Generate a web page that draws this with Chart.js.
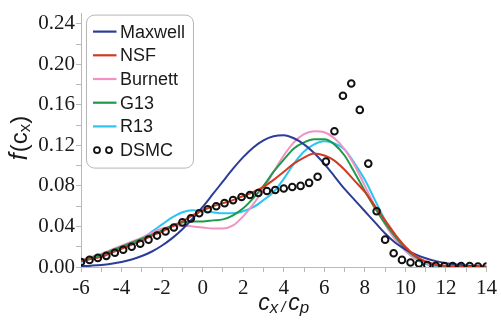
<!DOCTYPE html>
<html><head><meta charset="utf-8">
<script src="https://cdn.jsdelivr.net/npm/chart.js@4"></script>
<style>body{margin:0;background:#fff}canvas{display:block}</style>
</head><body>
<canvas id="c" width="501" height="325"></canvas>
<script>
// ---- data ----
const seriesNames = ['Maxwell','NSF','Burnett','G13','R13','DSMC'];
const xGrid = [-6,-5.5,-5,-4.5,-4,-3.5,-3,-2.5,-2,-1.5,-1,-0.5,0,0.5,1,1.5,2,2.5,3,3.5,4,4.5,5,5.5,6,6.5,7,7.5,8,8.5,9,9.5,10,10.5,11,11.5,12,12.5,13,13.5,14];
const maxwell = [0.0008,0.0013,0.0020,0.0032,0.0049,0.0074,0.0108,0.0153,0.0212,0.0285,0.0373,0.0476,0.0592,0.0718,0.0845,0.0970,0.1084,0.1180,0.1250,0.1290,0.1300,0.1270,0.1210,0.1125,0.1017,0.0895,0.0770,0.0660,0.0550,0.0440,0.0330,0.0240,0.0175,0.0124,0.0086,0.0058,0.0038,0.0025,0.0015,0.0009,0.0005];
const nsf = [0.006,0.008,0.010,0.014,0.018,0.022,0.026,0.031,0.035,0.040,0.045,0.051,0.056,0.060,0.063,0.066,0.070,0.074,0.079,0.086,0.094,0.102,0.108,0.112,0.110,0.105,0.096,0.085,0.074,0.060,0.046,0.032,0.020,0.011,0.0055,0.0025,0.0012,0.0005,0.0002,0.0001,0.0];
const burnett = [0.007,0.010,0.013,0.017,0.021,0.025,0.029,0.034,0.038,0.040,0.041,0.040,0.039,0.038,0.038,0.041,0.050,0.062,0.077,0.094,0.110,0.123,0.131,0.134,0.133,0.127,0.116,0.100,0.080,0.060,0.042,0.027,0.016,0.008,0.004,0.0015,0.0006,0.0003,0.0001,0.0,0.0];
const g13 = [0.006,0.009,0.012,0.016,0.020,0.024,0.028,0.032,0.036,0.041,0.044,0.045,0.045,0.046,0.047,0.051,0.058,0.068,0.080,0.094,0.106,0.117,0.123,0.126,0.126,0.121,0.110,0.093,0.075,0.058,0.043,0.030,0.018,0.010,0.005,0.002,0.001,0.0004,0.0002,0.0001,0.0];
const r13 = [0.005,0.008,0.011,0.015,0.019,0.023,0.028,0.035,0.042,0.049,0.054,0.056,0.055,0.054,0.053,0.053,0.055,0.059,0.066,0.074,0.087,0.102,0.114,0.121,0.124,0.122,0.116,0.102,0.086,0.066,0.046,0.029,0.016,0.008,0.003,0.001,0.0004,0.0002,0.0001,0.0,0.0];
const dsmcX = [-6,-5.58,-5.17,-4.75,-4.33,-3.92,-3.5,-3.08,-2.67,-2.25,-1.83,-1.42,-1,-0.58,-0.17,0.25,0.67,1.08,1.5,1.92,2.33,2.75,3.17,3.58,4,4.42,4.83,5.25,5.67,6.08,6.5,6.92,7.33,7.75,8.17,8.58,9,9.42,9.83,10.25,10.67,11.08,11.5,11.92,12.33,12.75,13.17,13.58,14];
const dsmcY = [0.005,0.007,0.009,0.011,0.014,0.017,0.020,0.023,0.027,0.031,0.035,0.039,0.044,0.048,0.053,0.057,0.060,0.063,0.066,0.069,0.071,0.073,0.075,0.076,0.0775,0.079,0.080,0.083,0.089,0.104,0.134,0.169,0.181,0.155,0.102,0.055,0.027,0.0135,0.007,0.0045,0.0035,0.002,0.0012,0.001,0.001,0.001,0.001,0.0005,0.0005];
const xTickLabels = [-6,-4,-2,0,2,4,6,8,10,12,14];
const yTickLabels = [0.00,0.04,0.08,0.12,0.16,0.20,0.24];

const colors = ['#2c3d98','#d13b22','#f291c4','#1e9a4a','#2cc5f2','#111111'];
const curveSeries = [maxwell, nsf, burnett, g13, r13];
const drawOrder = [2,1,4,3,5,0];

const datasets = curveSeries.map((ys,i)=>({
  label: seriesNames[i],
  data: xGrid.map((x,j)=>({x:x, y:ys[j]})),
  borderColor: colors[i], backgroundColor: colors[i],
  borderWidth: 2, pointRadius: 0, fill: false,
  cubicInterpolationMode: 'monotone', order: drawOrder[i]
}));
datasets.push({
  label: seriesNames[5],
  data: dsmcX.map((x,j)=>({x:x, y:dsmcY[j]})),
  showLine: false, pointRadius: 3.3, pointBorderWidth: 2,
  pointBorderColor: colors[5], pointBackgroundColor: 'rgba(255,255,255,0)',
  borderColor: colors[5], order: drawOrder[5]
});

const axisColor = '#b8b8b8';
const tickFont = {family: '"Liberation Serif", "Times New Roman", serif', size: 21};

function drawPieces(ctx, pieces, startX, baseY){
  let x = startX;
  for (const p of pieces){
    ctx.font = p.font;
    ctx.fillText(p.t, x, baseY + (p.dy||0));
    x += ctx.measureText(p.t).width + (p.gap||0);
  }
}
function piecesWidth(ctx, pieces){
  let w = 0;
  for (const p of pieces){ ctx.font = p.font; w += ctx.measureText(p.t).width + (p.gap||0); }
  return w;
}

const overlay = {
  id: 'overlay',
  afterDraw(chart){
    const ctx = chart.ctx, ca = chart.chartArea;
    ctx.save();
    // legend box
    const bx = ca.left + 5.5, by = ca.top + 1.5, bw = 107, bh = 153, r = 8;
    ctx.beginPath();
    ctx.moveTo(bx + r, by);
    ctx.arcTo(bx + bw, by, bx + bw, by + bh, r);
    ctx.arcTo(bx + bw, by + bh, bx, by + bh, r);
    ctx.arcTo(bx, by + bh, bx, by, r);
    ctx.arcTo(bx, by, bx + bw, by, r);
    ctx.closePath();
    ctx.fillStyle = '#ffffff'; ctx.fill();
    ctx.strokeStyle = '#b5b5b5'; ctx.lineWidth = 1; ctx.stroke();
    ctx.font = '18px "Liberation Sans", Arial, sans-serif';
    ctx.textBaseline = 'middle';
    chart.data.datasets.forEach((ds, i) => {
      const y = by + 16.5 + i * 23.7;
      if (ds.showLine === false){
        ctx.strokeStyle = ds.pointBorderColor; ctx.lineWidth = 1.8;
        [bx + 10.5, bx + 22.5].forEach(cx => { ctx.beginPath(); ctx.arc(cx, y, 3, 0, Math.PI*2); ctx.stroke(); });
      } else {
        ctx.strokeStyle = ds.borderColor; ctx.lineWidth = 2.2;
        ctx.beginPath(); ctx.moveTo(bx + 6.5, y); ctx.lineTo(bx + 30, y); ctx.stroke();
      }
      ctx.fillStyle = '#1a1a1a';
      ctx.font = '18px "Liberation Sans", Arial, sans-serif';
      ctx.fillText(ds.label, bx + 33.5, y + 1);
    });
    // x axis title
    ctx.fillStyle = '#1a1a1a';
    ctx.textBaseline = 'alphabetic';
    const xt = [
      {t:'c', font:'italic 23px "Liberation Sans", Arial, sans-serif'},
      {t:'x', font:'italic 17px "Liberation Sans", Arial, sans-serif', dy:3, gap:3},
      {t:'/', font:'italic 15px "Liberation Sans", Arial, sans-serif', dy:2, gap:3},
      {t:'c', font:'italic 23px "Liberation Sans", Arial, sans-serif'},
      {t:'p', font:'italic 17px "Liberation Sans", Arial, sans-serif', dy:3}
    ];
    const xw = piecesWidth(ctx, xt);
    drawPieces(ctx, xt, (ca.left + ca.right)/2 - xw/2, 310);
    // y axis title
    ctx.translate(27, 138);
    ctx.rotate(-Math.PI/2);
    const yt = [
      {t:'f', font:'italic 25px "Liberation Sans", Arial, sans-serif', gap:1},
      {t:'(', font:'24px "Liberation Sans", Arial, sans-serif'},
      {t:'c', font:'24px "Liberation Sans", Arial, sans-serif'},
      {t:'x', font:'17px "Liberation Sans", Arial, sans-serif', dy:3},
      {t:')', font:'24px "Liberation Sans", Arial, sans-serif'}
    ];
    const yw = piecesWidth(ctx, yt);
    drawPieces(ctx, yt, -yw/2, 0);
    ctx.restore();
  }
};

new Chart(document.getElementById('c'), {
  type: 'line',
  data: { datasets: datasets },
  options: {
    responsive: false, animation: false, devicePixelRatio: 1,
    events: [],
    layout: { padding: { top: 5, right: 14, left: 0, bottom: 0 } },
    plugins: { legend: { display: false }, tooltip: { enabled: false } },
    scales: {
      x: {
        type: 'linear', min: -6, max: 14,
        ticks: { stepSize: 1, autoSkip: false, maxRotation: 0, padding: 4,
          color: '#1a1a1a', font: tickFont,
          callback: v => xTickLabels.includes(v) ? String(v) : '' },
        grid: { drawOnChartArea: false, drawTicks: true, tickLength: 5, color: axisColor },
        border: { color: axisColor, width: 1 },
        afterFit: s => { s.height = 58; }
      },
      y: {
        type: 'linear', min: 0, max: 0.25,
        ticks: { stepSize: 0.02, includeBounds: false, autoSkip: false, padding: 1,
          color: '#1a1a1a', font: tickFont,
          callback: v => { const m = yTickLabels.find(t => Math.abs(t - v) < 1e-6); return m === undefined ? '' : m.toFixed(2); } },
        grid: { drawOnChartArea: false, drawTicks: true, tickLength: 5, color: axisColor },
        border: { color: axisColor, width: 1 },
        afterFit: s => { s.width = 81; }
      }
    }
  },
  plugins: [overlay]
});
</script>
</body></html>
